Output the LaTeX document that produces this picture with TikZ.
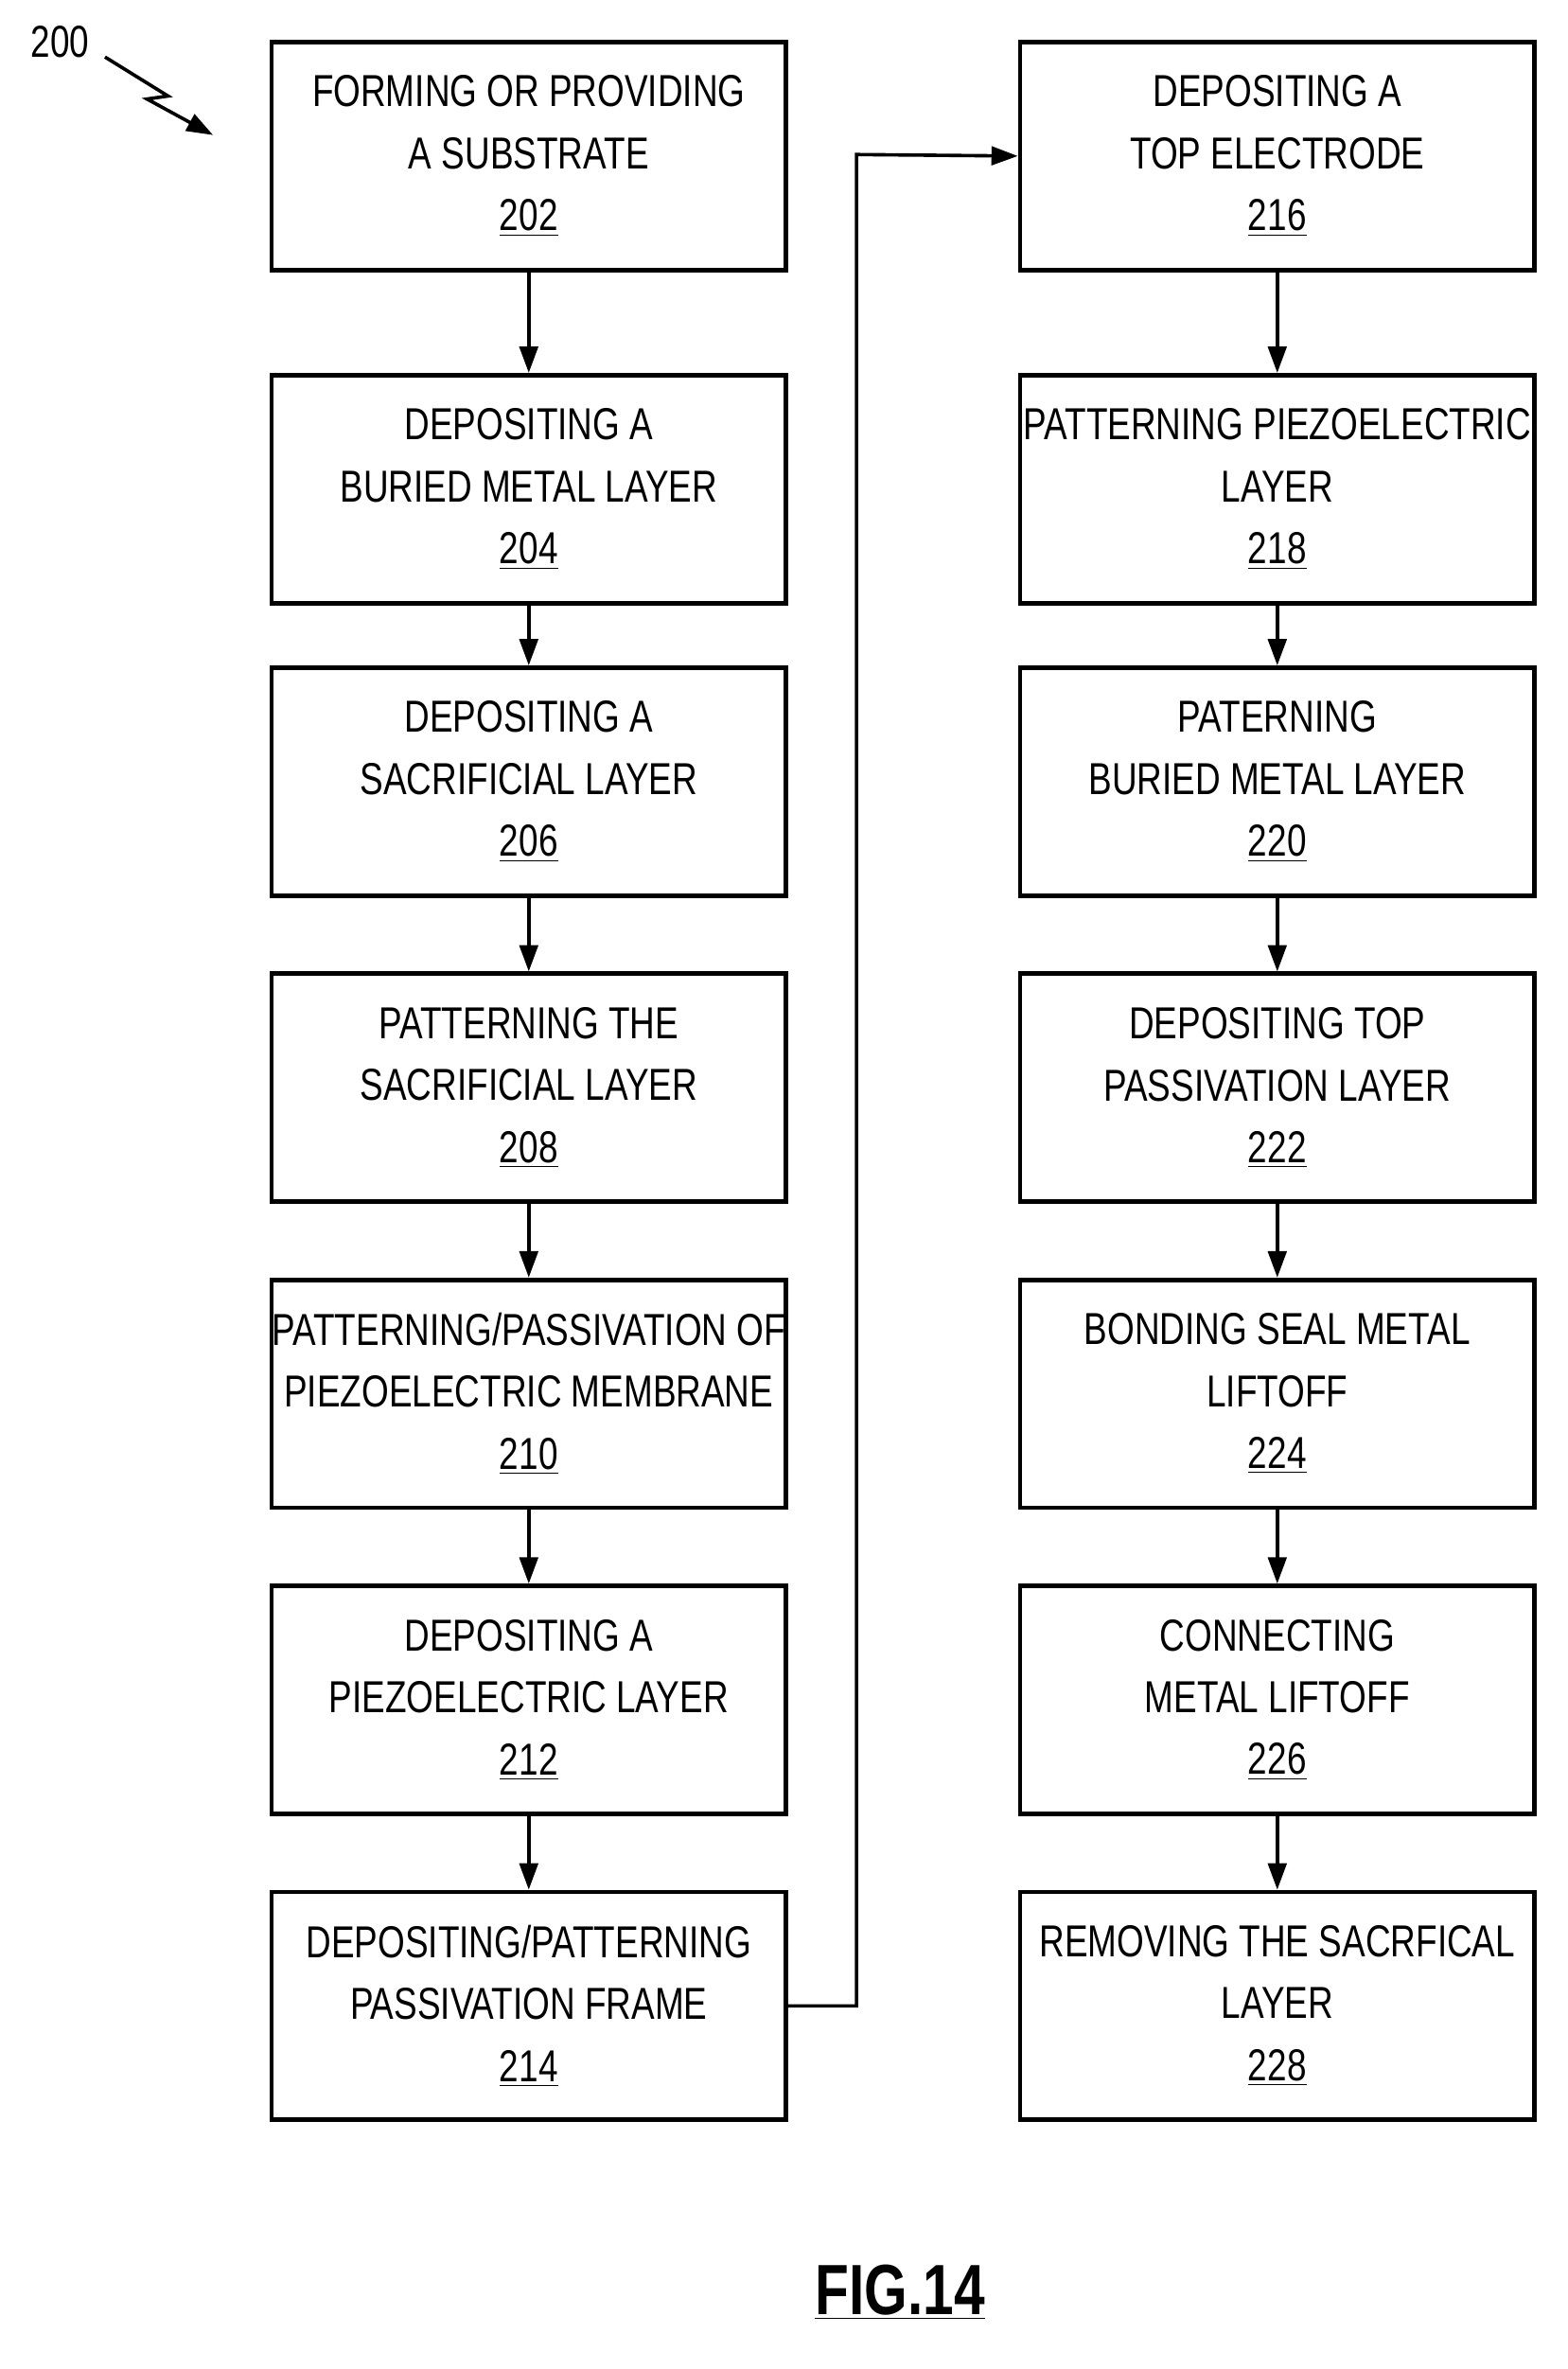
\documentclass[tikz,border=0pt]{standalone}
\usepackage{fontspec}
\setmainfont[FakeStretch=0.78]{Liberation Sans}
\usetikzlibrary{arrows.meta}
\begin{document}
\begin{tikzpicture}[x=0.02cm,y=-0.02cm,
 box/.style={draw,line width=1.7pt,minimum width=6.86cm,minimum height=3.04cm,inner sep=0pt},
 txt/.style={font=\fontsize{17}{23.5}\selectfont,align=center},
 arr/.style={line width=1.3pt,-{Triangle[length=10pt,width=7pt]}}]
\useasboundingbox (0,0) rectangle (1045,1579);
\def\rows{{104,326,521,725,929,1133,1337}}
\foreach \t/\n [count=\i from 0] in {{FORMING OR PROVIDING\\A SUBSTRATE}/202,{DEPOSITING A\\BURIED METAL LAYER}/204,{DEPOSITING A\\SACRIFICIAL LAYER}/206,{PATTERNING THE\\SACRIFICIAL LAYER}/208,{PATTERNING/PASSIVATION OF\\PIEZOELECTRIC MEMBRANE}/210,{DEPOSITING A\\PIEZOELECTRIC LAYER}/212,{DEPOSITING/PATTERNING\\PASSIVATION FRAME}/214}{
 \pgfmathsetmacro\yy{\rows[\i]}
 \node[box] (L\i) at (352.5,\yy) {};
 \node[txt] at (352.5,\yy) {\t\\\underline{\n}};
}
\foreach \t/\n [count=\i from 0] in {{DEPOSITING A\\TOP ELECTRODE}/216,{PATTERNING PIEZOELECTRIC\\LAYER}/218,{PATERNING\\BURIED METAL LAYER}/220,{DEPOSITING TOP\\PASSIVATION LAYER}/222,{BONDING SEAL METAL\\LIFTOFF}/224,{CONNECTING\\METAL LIFTOFF}/226,{REMOVING THE SACRFICAL\\LAYER}/228}{
 \pgfmathsetmacro\yy{\rows[\i]}
 \node[box] (R\i) at (851.5,\yy) {};
 \node[txt] at (851.5,\yy) {\t\\\underline{\n}};
}
\foreach \a/\b in {0/1,1/2,2/3,3/4,4/5,5/6}{
 \draw[arr] (L\a.south) -- (L\b.north);
 \draw[arr] (R\a.south) -- (R\b.north);
}
\coordinate (c1) at (571,1337);
\coordinate (c2) at (571,103);
\draw[arr] (L6.east) -- (c1) -- (c2) -- (R0.west);
\node[font=\fontsize{17}{20}\selectfont] (n200) at (40,28) {200};
\coordinate (z1) at (70,38);
\coordinate (z2) at (112,64);
\coordinate (z3) at (98,66);
\coordinate (z4) at (142,90);
\draw[line width=1.3pt,-{Triangle[length=10pt,width=7pt]}] (z1) -- (z2) -- (z3) -- (z4);
\node[font=\bfseries\fontsize{27}{30}\selectfont] (fig) at (600,1528) {\underline{FIG.14}};
\end{tikzpicture}
\end{document}
